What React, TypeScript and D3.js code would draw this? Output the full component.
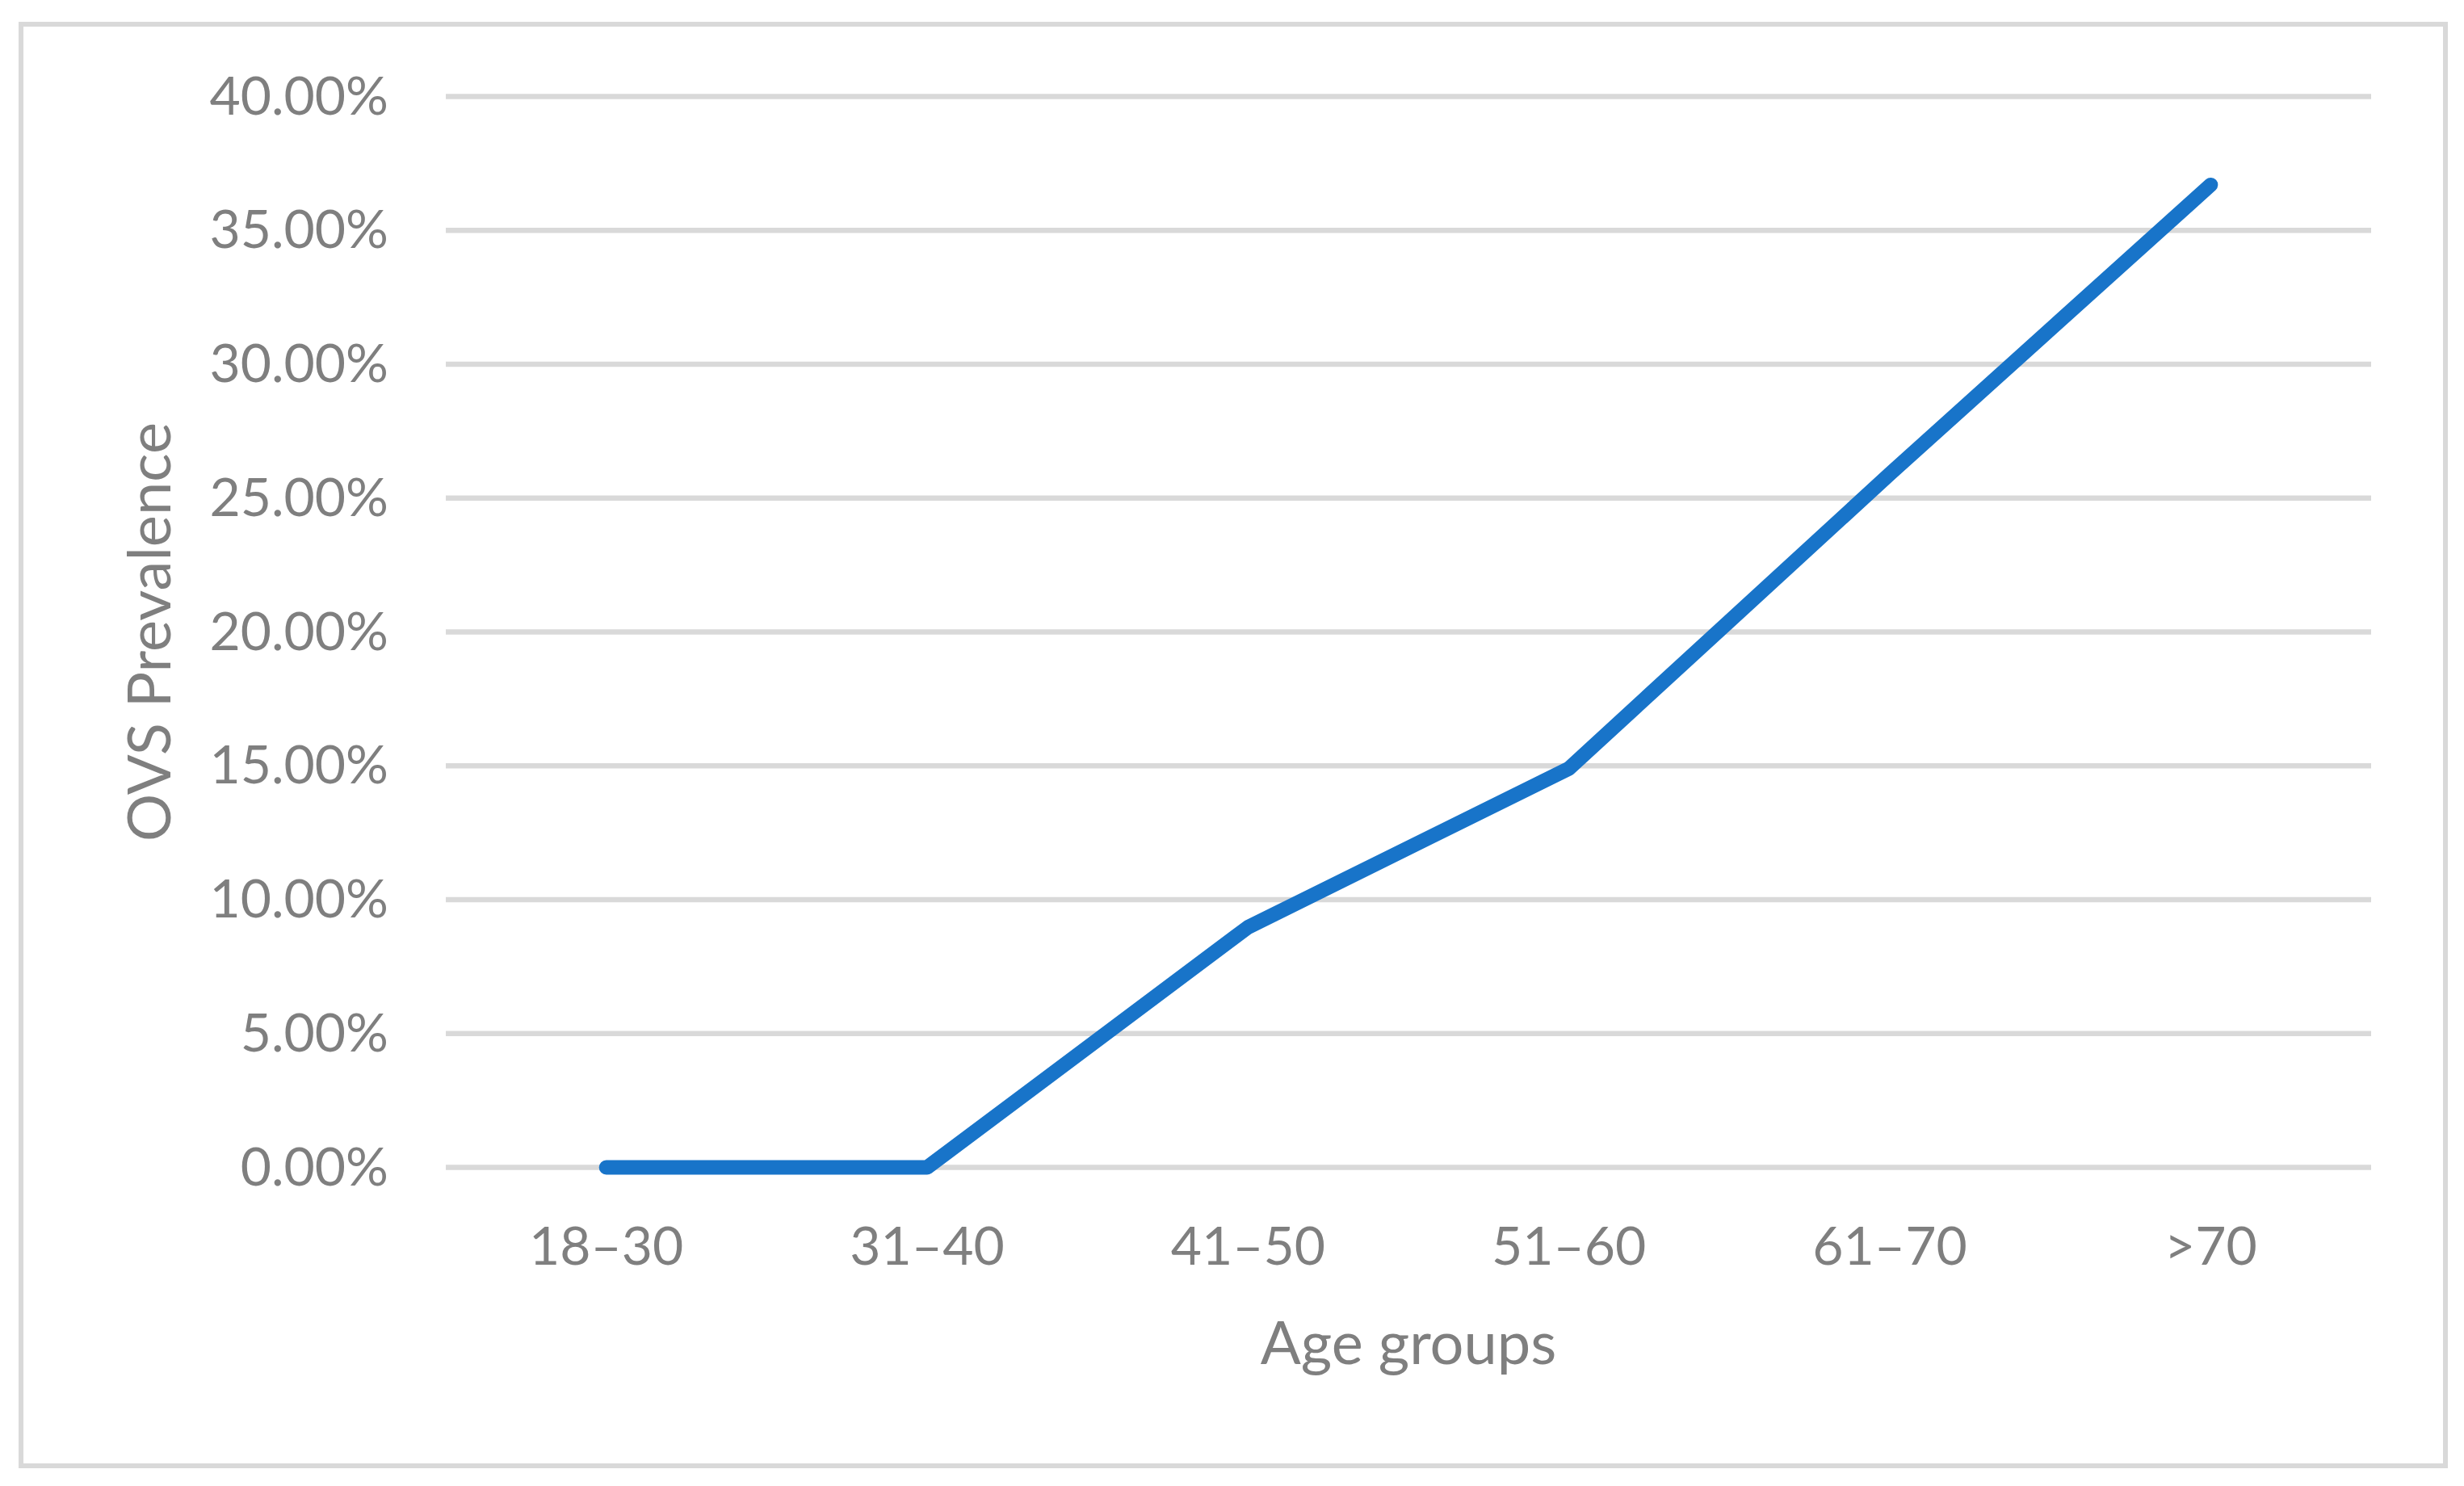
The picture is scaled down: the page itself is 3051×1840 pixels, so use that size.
import React, { useEffect, useRef } from "react";
import * as d3 from "d3";

const categories = ["18–30", "31–40", "41–50", "51–60", "61–70", ">70"];
const prevalence = [0, 0, 0.0897, 0.149, 0.259, 0.367];
const yTicks = [0, 0.05, 0.1, 0.15, 0.2, 0.25, 0.3, 0.35, 0.4];
const xTitle = "Age groups";
const yTitle = "OVS Prevalence";

const W = 3051;
const H = 1840;
const FONT = "Lato, 'Open Sans', sans-serif";
const GRAY = "#7f7f7f";
const GRID = "#d9d9d9";
const BLUE = "#1874c9";

export default function App() {
  const ref = useRef<SVGSVGElement>(null);

  useEffect(() => {
    document.body.style.margin = "0";
    const svg = d3.select(ref.current);
    svg.selectAll("*").remove();

    const left = 552, right = 2936, top = 119.5, bottom = 1445.5;
    const x = d3.scaleBand<string>().domain(categories).range([left, right]).padding(0);
    const y = d3.scaleLinear().domain([0, 0.4]).range([bottom, top]);
    const cx = (c: string) => (x(c) as number) + x.bandwidth() / 2;

    svg.append("rect").attr("x", 0).attr("y", 0).attr("width", W).attr("height", H).attr("fill", "#fff");
    svg.append("rect")
      .attr("x", 26).attr("y", 30).attr("width", 3002).attr("height", 1785)
      .attr("fill", "none").attr("stroke", GRID).attr("stroke-width", 6);

    // gridlines
    svg.append("g").selectAll("line").data(yTicks).join("line")
      .attr("x1", left).attr("x2", right)
      .attr("y1", (d) => y(d)).attr("y2", (d) => y(d))
      .attr("stroke", GRID).attr("stroke-width", 6.5);

    // y tick labels
    svg.append("g").selectAll("text").data(yTicks).join("text")
      .attr("x", 481).attr("y", (d) => y(d) + 22)
      .attr("text-anchor", "end")
      .attr("font-family", FONT).attr("font-size", 66).attr("fill", GRAY)
      .text((d) => d3.format(".2%")(d));

    // x tick labels
    svg.append("g").selectAll("text").data(categories).join("text")
      .attr("x", (d) => cx(d)).attr("y", 1566)
      .attr("text-anchor", "middle")
      .attr("font-family", FONT).attr("font-size", 66).attr("fill", GRAY)
      .text((d) => d);

    // line
    const line = d3.line<number>()
      .x((_, i) => cx(categories[i]))
      .y((d) => y(d));
    svg.append("path")
      .attr("d", line(prevalence) as string)
      .attr("fill", "none").attr("stroke", BLUE).attr("stroke-width", 18)
      .attr("stroke-linecap", "round").attr("stroke-linejoin", "round");

    // axis titles
    svg.append("text")
      .attr("x", (left + right) / 2).attr("y", 1689)
      .attr("text-anchor", "middle")
      .attr("font-family", FONT).attr("font-size", 74).attr("fill", GRAY)
      .text(xTitle);
    svg.append("text")
      .attr("transform", `translate(211, ${(top + bottom) / 2}) rotate(-90)`)
      .attr("text-anchor", "middle")
      .attr("font-family", FONT).attr("font-size", 74).attr("fill", GRAY)
      .text(yTitle);
  }, []);

  return (
    <div style={{ position: "absolute", left: 0, top: 0 }}>
      <svg ref={ref} width={W} height={H} style={{ display: "block" }} />
    </div>
  );
}
